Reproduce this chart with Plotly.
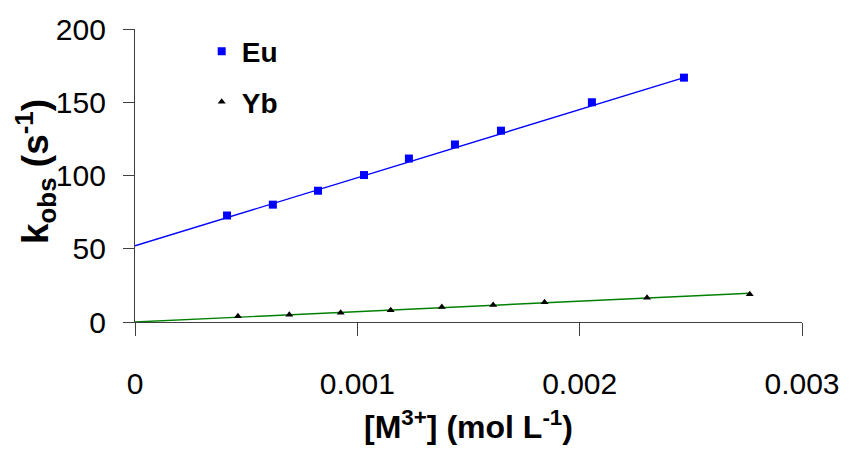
import plotly.graph_objects as go

# Concentration of metal ion (mol/L) and observed rate constants (1/s)
eu_conc = [0.000414, 0.000620, 0.000823, 0.001030, 0.001232, 0.001439, 0.001646, 0.002055, 0.002469]
eu_kobs = [72.7, 80.1, 89.6, 100.3, 111.6, 121.2, 130.6, 150.0, 166.8]

yb_conc = [0.000463, 0.000694, 0.000925, 0.001150, 0.001380, 0.001611, 0.001842, 0.002303, 0.002765]
yb_kobs = [4.0, 4.9, 6.3, 8.1, 10.3, 11.6, 13.5, 16.6, 18.9]

# Linear fits: k_obs = intercept + slope * [M3+]
eu_fit_intercept, eu_fit_slope = 52.0, 46500.0
yb_fit_intercept, yb_fit_slope = 0.0, 7100.0

x_ticks = [0, 0.001, 0.002, 0.003]
x_tick_text = ["0", "0.001", "0.002", "0.003"]
y_ticks = [0, 50, 100, 150, 200]

FONT = "Arial, Liberation Sans, sans-serif"

fig = go.Figure()

# Fit lines, drawn from zero to the last measured concentration
eu_fit_x = [0, eu_conc[-1]]
fig.add_trace(go.Scatter(
    x=eu_fit_x, y=[eu_fit_intercept + eu_fit_slope * v for v in eu_fit_x],
    mode="lines", line=dict(color="#0000FF", width=1.4),
    showlegend=False, hoverinfo="skip", legendgroup="eu"))
yb_fit_x = [0, yb_conc[-1]]
fig.add_trace(go.Scatter(
    x=yb_fit_x, y=[yb_fit_intercept + yb_fit_slope * v for v in yb_fit_x],
    mode="lines", line=dict(color="#008000", width=1.4),
    showlegend=False, hoverinfo="skip", legendgroup="yb"))

# Measured points
fig.add_trace(go.Scatter(
    x=eu_conc, y=eu_kobs, mode="markers", name="Eu", legendgroup="eu",
    marker=dict(symbol="square", size=8, color="#0000FF")))
fig.add_trace(go.Scatter(
    x=yb_conc, y=yb_kobs, mode="markers", name="Yb", legendgroup="yb",
    marker=dict(symbol="triangle-up", size=7, color="#000000")))

axis_common = dict(
    showline=True, linecolor="#404040", linewidth=1.2,
    ticks="outside", tickcolor="#404040", tickwidth=1.2,
    showgrid=False, zeroline=False,
    tickfont=dict(family=FONT, size=30, color="#000000"),
)

fig.update_xaxes(
    range=[0, 0.003], tickvals=x_ticks, ticktext=x_tick_text,
    ticklen=13, ticklabelstandoff=22,
    title=dict(text="<b>[M<sup>3+</sup>] (mol L<sup>-1</sup>)</b>",
               font=dict(family=FONT, size=32, color="#000000"), standoff=16),
    **axis_common)
fig.update_yaxes(
    range=[0, 200], tickvals=y_ticks,
    ticklen=11, ticklabelstandoff=11,
    **axis_common)

# Vertical axis title placed as a rotated annotation left of the tick labels
fig.add_annotation(
    text="<b>k<sub>obs</sub> (s<sup>-1</sup>)</b>",
    xref="paper", yref="paper", x=-0.15, y=0.515,
    xanchor="center", yanchor="middle", textangle=-90, showarrow=False,
    font=dict(family=FONT, size=37, color="#000000"))

fig.update_layout(
    width=852, height=458,
    margin=dict(l=135, r=50, t=25, b=136),
    paper_bgcolor="white", plot_bgcolor="white",
    showlegend=True,
    legend=dict(
        x=0.1, y=1.008, xanchor="left", yanchor="top",
        bgcolor="rgba(0,0,0,0)", traceorder="grouped", tracegroupgap=11,
        font=dict(family=FONT, size=28, color="#000000", weight="bold"),
    ),
)

fig.write_html("out.html")
